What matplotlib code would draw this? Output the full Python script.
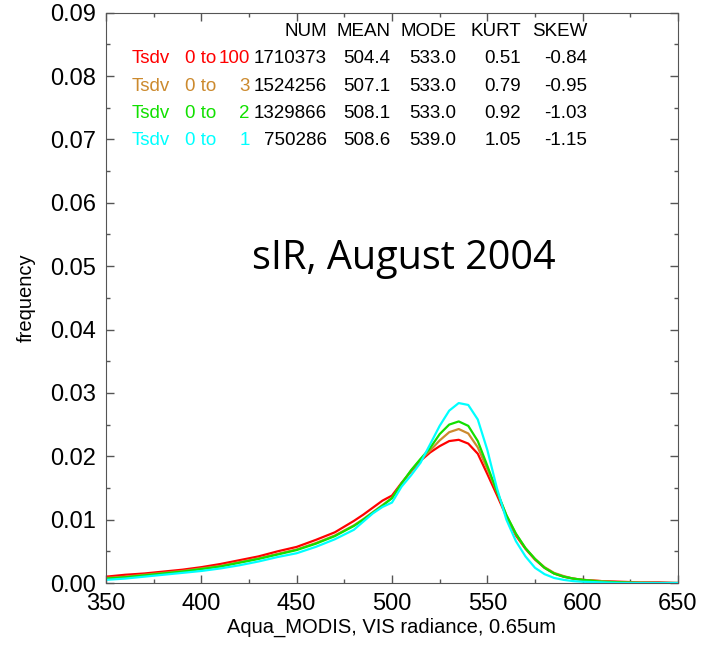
import numpy as np
import matplotlib
matplotlib.use('Agg')
import matplotlib.pyplot as plt
from matplotlib.ticker import MultipleLocator, FormatStrFormatter

plt.rcParams['font.family'] = ['Liberation Sans', 'DejaVu Sans']

# radiance bins
radiance = [350, 360, 370, 380, 390, 400, 410, 420, 430, 440, 450, 460, 470, 480,
            485, 490, 495, 500, 505, 510, 515, 520, 525, 530, 535, 540, 545, 550,
            555, 560, 565, 570, 575, 580, 585, 590, 595, 600,
            610, 620, 630, 640, 650]

freq_0_100 = [.0010, .0013, .0015, .0018, .0021, .0025, .0030, .0036, .0042, .0050, .0057, .0068, .0080, .0098,
              .0108, .0119, .0130, .0138, .0158, .0176, .0193, .0206, .0216, .0224, .0226, .0220, .0204, .0172,
              .0139, .0105, .0075, .0054, .0037, .0024, .0015, .0010, .0007, .0005,
              .0003, .0002, .0001, .0001, .0000]

freq_0_3 = [.0008, .0010, .0013, .0016, .0019, .0023, .0027, .0033, .0039, .0046, .0053, .0063, .0075, .0091,
            .0101, .0112, .0123, .0134, .0157, .0177, .0195, .0209, .0225, .0238, .0243, .0236, .0214, .0180,
            .0144, .0107, .0077, .0055, .0038, .0025, .0016, .0011, .0007, .0005,
            .0003, .0001, .0001, .0000, .0000]

freq_0_2 = [.0007, .0009, .0012, .0015, .0018, .0022, .0026, .0032, .0038, .0045, .0052, .0062, .0074, .0090,
            .0100, .0111, .0122, .0134, .0157, .0178, .0196, .0213, .0235, .0250, .0255, .0248, .0224, .0185,
            .0145, .0107, .0078, .0055, .0038, .0024, .0015, .0010, .0007, .0005,
            .0002, .0001, .0000, .0000, .0000]

freq_0_1 = [.0005, .0007, .0010, .0013, .0016, .0019, .0023, .0028, .0034, .0041, .0047, .0057, .0069, .0084,
            .0097, .0110, .0120, .0127, .0152, .0170, .0190, .0219, .0248, .0272, .0284, .0281, .0258, .0210,
            .0150, .0100, .0066, .0042, .0024, .0014, .0008, .0005, .0003, .0002,
            .0001, .0000, .0000, .0000, .0000]

row_names = ['Tsdv', 'Tsdv', 'Tsdv', 'Tsdv']
row_ranges = ['100', '3', '2', '1']
row_colors = ['#ff0000', '#cc8a2e', '#11e000', '#00ffff']
col_headers = ['NUM', 'MEAN', 'MODE', 'KURT', 'SKEW']
num = ['1710373', '1524256', '1329866', '750286']
mean = ['504.4', '507.1', '508.1', '508.6']
mode = ['533.0', '533.0', '533.0', '539.0']
kurt = ['0.51', '0.79', '0.92', '1.05']
skew = ['-0.84', '-0.95', '-1.03', '-1.15']

series = [freq_0_100, freq_0_3, freq_0_2, freq_0_1]

fig = plt.figure(figsize=(7.02, 6.45), dpi=100)
ax = fig.add_axes([0.151, 0.0961, 0.8148, 0.8842])

for y, c in zip(series, row_colors):
    ax.plot(radiance, y, color=c, lw=1.6)

ax.set_xlim(350, 650)
ax.set_ylim(0, 0.09)
ax.xaxis.set_major_locator(MultipleLocator(50))
ax.xaxis.set_minor_locator(MultipleLocator(25))
ax.yaxis.set_major_locator(MultipleLocator(0.01))
ax.yaxis.set_minor_locator(MultipleLocator(0.005))
ax.yaxis.set_major_formatter(FormatStrFormatter('%.2f'))
ax.tick_params(which='both', direction='in', top=True, right=True,
               color='#555555', labelsize=17, pad=7)
ax.tick_params(which='major', length=6, width=1)
ax.tick_params(which='minor', length=3, width=1)
for s in ax.spines.values():
    s.set_color('#555555')

ax.set_xlabel('Aqua_MODIS, VIS radiance, 0.65um', fontsize=14.5, labelpad=2)
ax.set_ylabel('frequency', fontsize=14.5)
ax.yaxis.set_label_coords(-0.122, 0.5)

# statistics table
fs = 13.5
row_y = [0.0827, 0.0783, 0.0741, 0.0699]
col_x = [465.9, 499.0, 533.6, 567.7, 602.3]
for x, h in zip(col_x, col_headers):
    ax.text(x, 0.0870, h, ha='right', va='center', fontsize=fs)
for i in range(4):
    y = row_y[i]
    c = row_colors[i]
    ax.text(363.5, y, row_names[i], color=c, ha='left', va='center', fontsize=fs)
    ax.text(391.4, y, '0 to', color=c, ha='left', va='center', fontsize=fs)
    ax.text(425.5, y, row_ranges[i], color=c, ha='right', va='center', fontsize=fs)
    for x, col in zip(col_x, [num, mean, mode, kurt, skew]):
        ax.text(x, y, col[i], ha='right', va='center', fontsize=fs)

ax.text(506, 0.0512, 'sIR, August 2004', ha='center', va='center',
        fontsize=28.5, family=['Open Sans', 'DejaVu Sans'])

fig.savefig('out.png', dpi=100)
